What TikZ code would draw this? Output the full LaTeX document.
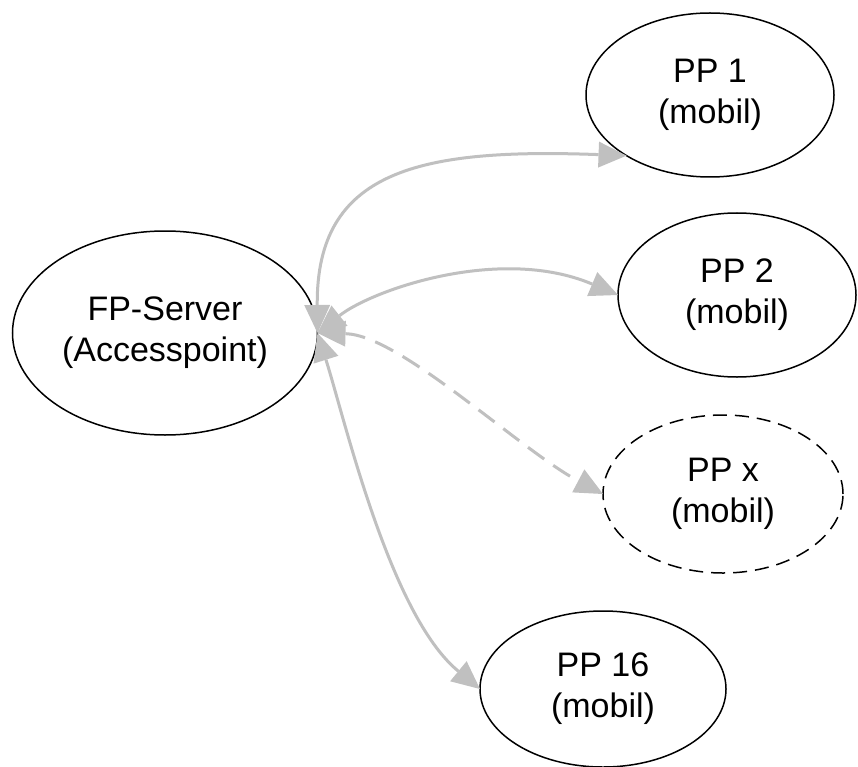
\documentclass[tikz,border=0pt]{standalone}
\usepackage{fontspec}
\setmainfont{Liberation Sans}
\usetikzlibrary{shapes.geometric,arrows.meta}
\definecolor{edgegray}{HTML}{C0C0C0}
\tikzset{
  nodebox/.style={ellipse, draw=black, line width=1.5pt, inner sep=0pt, outer sep=0pt,
    align=center, font=\fontsize{34pt}{41pt}\selectfont},
  ppbox/.style={nodebox},
  dashedbox/.style={dash pattern=on 14pt off 8pt},
  edge/.style={draw=edgegray, line width=3pt,
    {Triangle[length=28pt,width=26pt,line width=0pt]}-{Triangle[length=28pt,width=26pt,line width=0pt]}},
  dashededge/.style={dash pattern=on 20pt off 11pt}
}
\begin{document}
\begin{tikzpicture}[x=1pt,y=-1pt]
\useasboundingbox (0,0) rectangle (858,767);
\fill[white] (0,0) rectangle (858,767);

\node[nodebox, minimum width=305pt, minimum height=204pt] (fp) at (165,333) {FP-Server\\(Accesspoint)};
\node[ppbox, minimum width=248pt, minimum height=164pt] (pp1) at (710,95) {PP 1\\(mobil)};
\node[ppbox, minimum width=238pt, minimum height=164pt] (pp2) at (737,295) {PP 2\\(mobil)};
\node[ppbox, dashedbox, minimum width=240pt, minimum height=158pt] (ppx) at (723,494) {PP x\\(mobil)};
\node[ppbox, minimum width=246pt, minimum height=156pt] (pp16) at (603,689) {PP 16\\(mobil)};

\draw[edge] (fp.east) .. controls (316,170) and (420,148) .. (pp1.216);
\draw[edge] (fp.east) .. controls (372,290) and (500,245) .. (pp2.west);
\draw[edge, dashededge] (fp.east) .. controls (400,335) and (520,450) .. (ppx.west);
\draw[edge] (fp.east) .. controls (345,420) and (390,615) .. (pp16.west);
\end{tikzpicture}
\end{document}
